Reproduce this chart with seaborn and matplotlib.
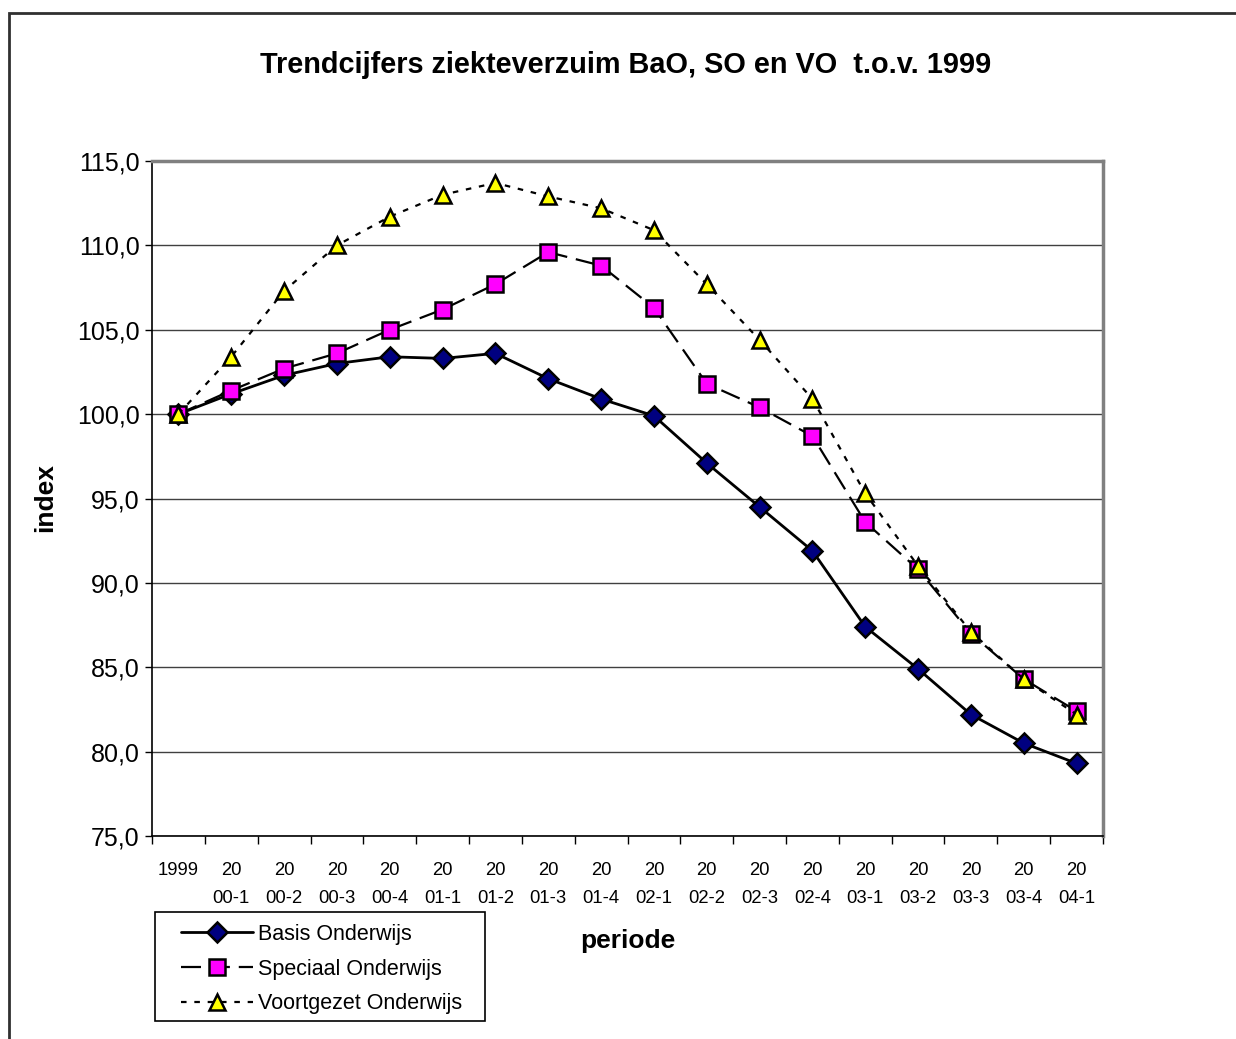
import matplotlib
matplotlib.use("Agg")
import matplotlib.pyplot as plt
import numpy as np
import pandas as pd
import seaborn as sns
from matplotlib.legend_handler import HandlerLine2D
from matplotlib.lines import Line2D
from matplotlib.patches import Rectangle
from matplotlib.ticker import FixedLocator, FuncFormatter

periods = ["1999", "20\n00-1", "20\n00-2", "20\n00-3", "20\n00-4", "20\n01-1",
           "20\n01-2", "20\n01-3", "20\n01-4", "20\n02-1", "20\n02-2", "20\n02-3",
           "20\n02-4", "20\n03-1", "20\n03-2", "20\n03-3", "20\n03-4", "20\n04-1"]
basis = [100.0, 101.2, 102.3, 103.0, 103.4, 103.3, 103.6, 102.1, 100.9,
         99.9, 97.1, 94.5, 91.9, 87.4, 84.9, 82.2, 80.5, 79.3]
speciaal = [100.0, 101.4, 102.7, 103.6, 105.0, 106.2, 107.7, 109.6, 108.8,
            106.3, 101.8, 100.4, 98.7, 93.6, 90.8, 87.0, 84.3, 82.4]
voortgezet = [100.0, 103.4, 107.3, 110.0, 111.7, 113.0, 113.7, 112.9, 112.2,
              110.9, 107.7, 104.4, 100.9, 95.3, 91.0, 87.1, 84.3, 82.2]
series_names = ["Basis Onderwijs", "Speciaal Onderwijs", "Voortgezet Onderwijs"]
y_ticks = [75, 80, 85, 90, 95, 100, 105, 110, 115]

sns.set_style("white")
plt.rcParams["font.family"] = ["Liberation Sans", "DejaVu Sans"]
plt.rcParams["text.color"] = "black"
plt.rcParams["axes.labelcolor"] = "black"
plt.rcParams["xtick.color"] = "black"
plt.rcParams["ytick.color"] = "black"

df = pd.DataFrame({"pos": np.arange(len(periods)),
                   series_names[0]: basis,
                   series_names[1]: speciaal,
                   series_names[2]: voortgezet})

fig = plt.figure(figsize=(12.36, 10.39), dpi=100)
ax = fig.add_axes([152 / 1236, 1 - 836 / 1039, 951 / 1236, 675 / 1039])

styles = {
    series_names[0]: dict(linestyle="-", linewidth=2.0, marker="D", markersize=10,
                          markerfacecolor="#000080"),
    series_names[1]: dict(linestyle=(0, (9, 4)), linewidth=1.6, marker="s", markersize=11,
                          markerfacecolor="#FF00FF"),
    series_names[2]: dict(linestyle=(0, (2.5, 3.5)), linewidth=1.6, marker="^", markersize=11,
                          markerfacecolor="#FFFF00"),
}
handles = []
for name in series_names:
    st = styles[name]
    sns.lineplot(data=df, x="pos", y=name, ax=ax, color="black", label=name,
                 markeredgecolor="black", markeredgewidth=1.8, **st)
    handles.append(Line2D([], [], color="black", markeredgecolor="black",
                          markeredgewidth=1.8, **st))
ax.get_legend().remove()

ax.set_xlim(-0.5, len(periods) - 0.5)
ax.set_ylim(75, 115)
ax.set_yticks(y_ticks)
ax.yaxis.set_major_formatter(FuncFormatter(lambda v, p: f"{v:.1f}".replace(".", ",")))
ax.grid(axis="y", color="#404040", linewidth=1.0)
ax.set_axisbelow(True)

ax.set_xticks(np.arange(len(periods)))
ax.set_xticklabels(periods)
ax.xaxis.set_minor_locator(FixedLocator(np.arange(len(periods) + 1) - 0.5))
ax.tick_params(axis="x", which="major", length=0, pad=19, labelsize=13.3)
ax.tick_params(axis="x", which="minor", length=6, width=1, color="black", direction="out",
               bottom=True)
ax.tick_params(axis="y", length=5, width=1, color="black", direction="out", left=True,
               labelsize=18, pad=4)
for label in ax.get_xticklabels():
    label.set_linespacing(1.85)

for side in ["left", "bottom"]:
    ax.spines[side].set_color("black")
    ax.spines[side].set_linewidth(1.2)
for side in ["top", "right"]:
    ax.spines[side].set_color("#808080")
    ax.spines[side].set_linewidth(2.5)

ax.set_ylabel("index", fontsize=19, fontweight="bold")
ax.yaxis.set_label_coords((45 - 152) / 951, 0.502)
ax.yaxis.label.set_va("center")
ax.set_xlabel("periode", fontsize=19, fontweight="bold")
ax.xaxis.set_label_coords(0.5005, -0.156)
ax.xaxis.label.set_va("center")

fig.text(626 / 1236, 1 - 65 / 1039, "Trendcijfers ziekteverzuim BaO, SO en VO  t.o.v. 1999",
         ha="center", va="center", fontsize=20.8, fontweight="bold")

# legend contents without frame; box drawn separately
leg = fig.legend(handles, series_names, loc="upper left",
                 bbox_to_anchor=(181 / 1236, 1 - 924 / 1039), borderaxespad=0,
                 fontsize=15.5, frameon=False, handlelength=3.35, handletextpad=0.23,
                 labelspacing=0.63, borderpad=0,
                 handler_map={Line2D: HandlerLine2D()})
fig.patches.append(Rectangle((155 / 1236, 1 - 1021 / 1039), 330 / 1236, 109 / 1039,
                             transform=fig.transFigure, fill=False,
                             edgecolor="black", linewidth=1.2))

fig.patches.append(Rectangle((9 / 1236, -0.1), 1.2, 0.1 + 1 - 13 / 1039,
                             transform=fig.transFigure, fill=False,
                             edgecolor="#303030", linewidth=2))

fig.savefig("out.png", dpi=100)
